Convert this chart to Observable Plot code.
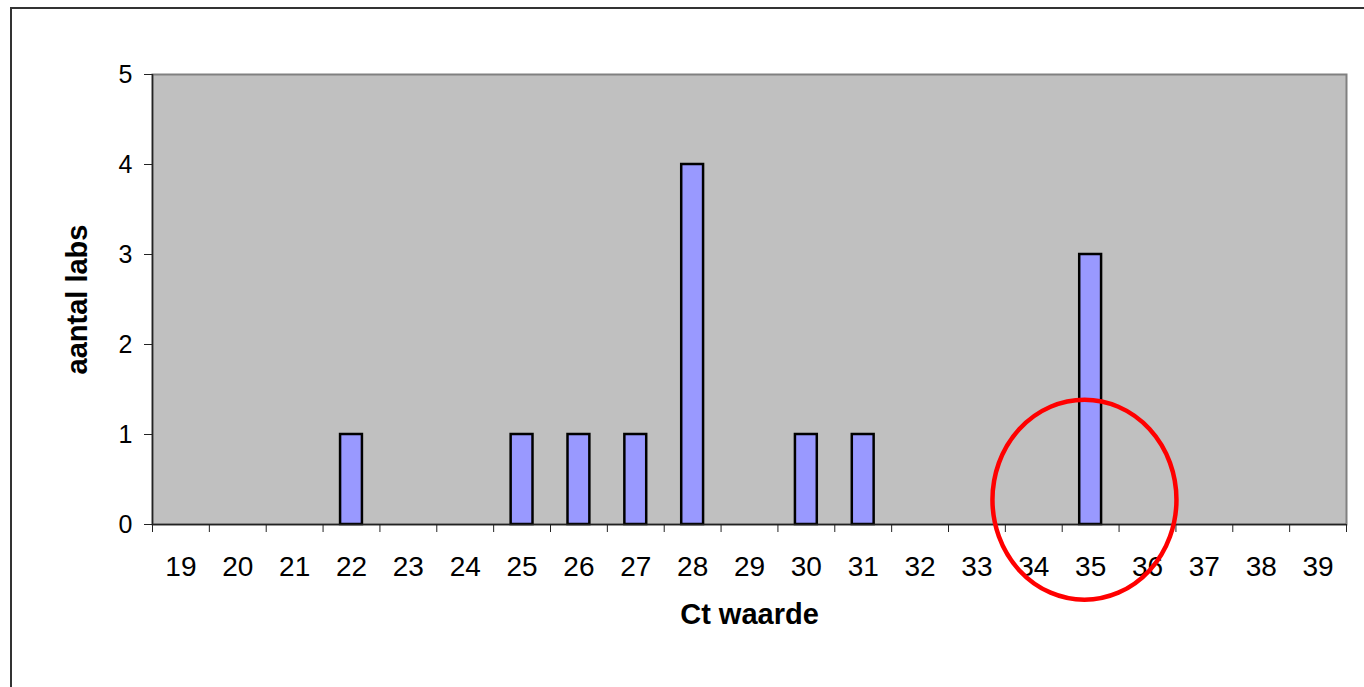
<!DOCTYPE html>
<html>
<head>
<meta charset="utf-8">
<script src="https://cdn.jsdelivr.net/npm/d3@7"></script>
<script src="https://cdn.jsdelivr.net/npm/@observablehq/plot@0.6"></script>
<style>
  html, body { margin: 0; padding: 0; background: #fff; overflow: hidden; }
  #wrap { position: relative; width: 1364px; height: 687px; }
  #border { position: absolute; left: 10px; top: 7px; width: 2000px; height: 2000px;
            border: 2px solid #333; box-sizing: border-box; pointer-events: none; }
</style>
</head>
<body>
<div id="wrap"><div id="border"></div><div id="chart"></div></div>
<script>
// Ct values (categories) and number of labs
const ctValues = [19, 20, 21, 22, 23, 24, 25, 26, 27, 28, 29, 30, 31, 32, 33, 34, 35, 36, 37, 38, 39];
const labCounts = [0, 0, 0, 1, 0, 0, 1, 1, 1, 4, 0, 1, 1, 0, 0, 0, 3, 0, 0, 0, 0];
const yTicks = [0, 1, 2, 3, 4, 5];
const xTitle = "Ct waarde";
const yTitle = "aantal labs";
// highlighted annotation (red circle) around Ct 35
const highlightCt = [34.9];
const highlightY = [0.27];

const data = ctValues.map((ct, i) => ({ct, n: labCounts[i]}));
const bars = data.filter(d => d.n > 0);
const bounds = ctValues.map(c => c - 0.5).concat([ctValues[ctValues.length - 1] + 0.5]);
const annot = highlightCt.map((ct, i) => ({ct, n: highlightY[i]}));

const chart = Plot.plot({
  width: 1364,
  height: 687,
  marginLeft: 152,
  marginRight: 18,
  marginTop: 74,
  marginBottom: 163,
  style: {fontFamily: "'Liberation Sans', Arial, sans-serif", color: "#000", background: "transparent"},
  x: {type: "linear", domain: [bounds[0], bounds[bounds.length - 1]], label: null},
  y: {domain: [0, 5], label: null},
  marks: [
    Plot.frame({fill: "#C0C0C0", stroke: "#808080", strokeWidth: 2}),
    Plot.rectY(bars, {
      x1: d => d.ct - 0.5, x2: d => d.ct + 0.5, y: "n",
      insetLeft: 17.5, insetRight: 17.5,
      fill: "#9999FF", stroke: "#000", strokeWidth: 2.5
    }),
    Plot.ruleY([0], {stroke: "#222", strokeWidth: 1.5}),
    Plot.ruleX([bounds[0]], {stroke: "#222", strokeWidth: 1.5}),
    Plot.axisY({ticks: yTicks, tickSize: 8, tickPadding: 12, fontSize: 25, stroke: "#222", tickFormat: d => String(d)}),
    Plot.axisX({ticks: bounds, tickSize: 8, stroke: "#222", tickFormat: () => ""}),
    Plot.axisX({ticks: ctValues, tickSize: 0, tickPadding: 32, fontSize: 28, tickFormat: d => String(d)}),
    Plot.text([xTitle], {frameAnchor: "bottom", dy: 99, text: d => d, fontSize: 29, fontWeight: "bold"}),
    Plot.text([yTitle], {frameAnchor: "left", textAnchor: "middle", dx: -75, rotate: -90, text: d => d, fontSize: 29, fontWeight: "bold"}),
    Plot.dot(annot, {
      x: "ct", y: "n",
      render(index, scales, values) {
        const g = d3.create("svg:g");
        for (const i of index) {
          g.append("ellipse")
            .attr("cx", values.x[i]).attr("cy", values.y[i])
            .attr("rx", 92).attr("ry", 100)
            .attr("fill", "none").attr("stroke", "#FF0000").attr("stroke-width", 4.5);
        }
        return g.node();
      }
    })
  ]
});
document.getElementById("chart").appendChild(chart);
</script>
</body>
</html>
